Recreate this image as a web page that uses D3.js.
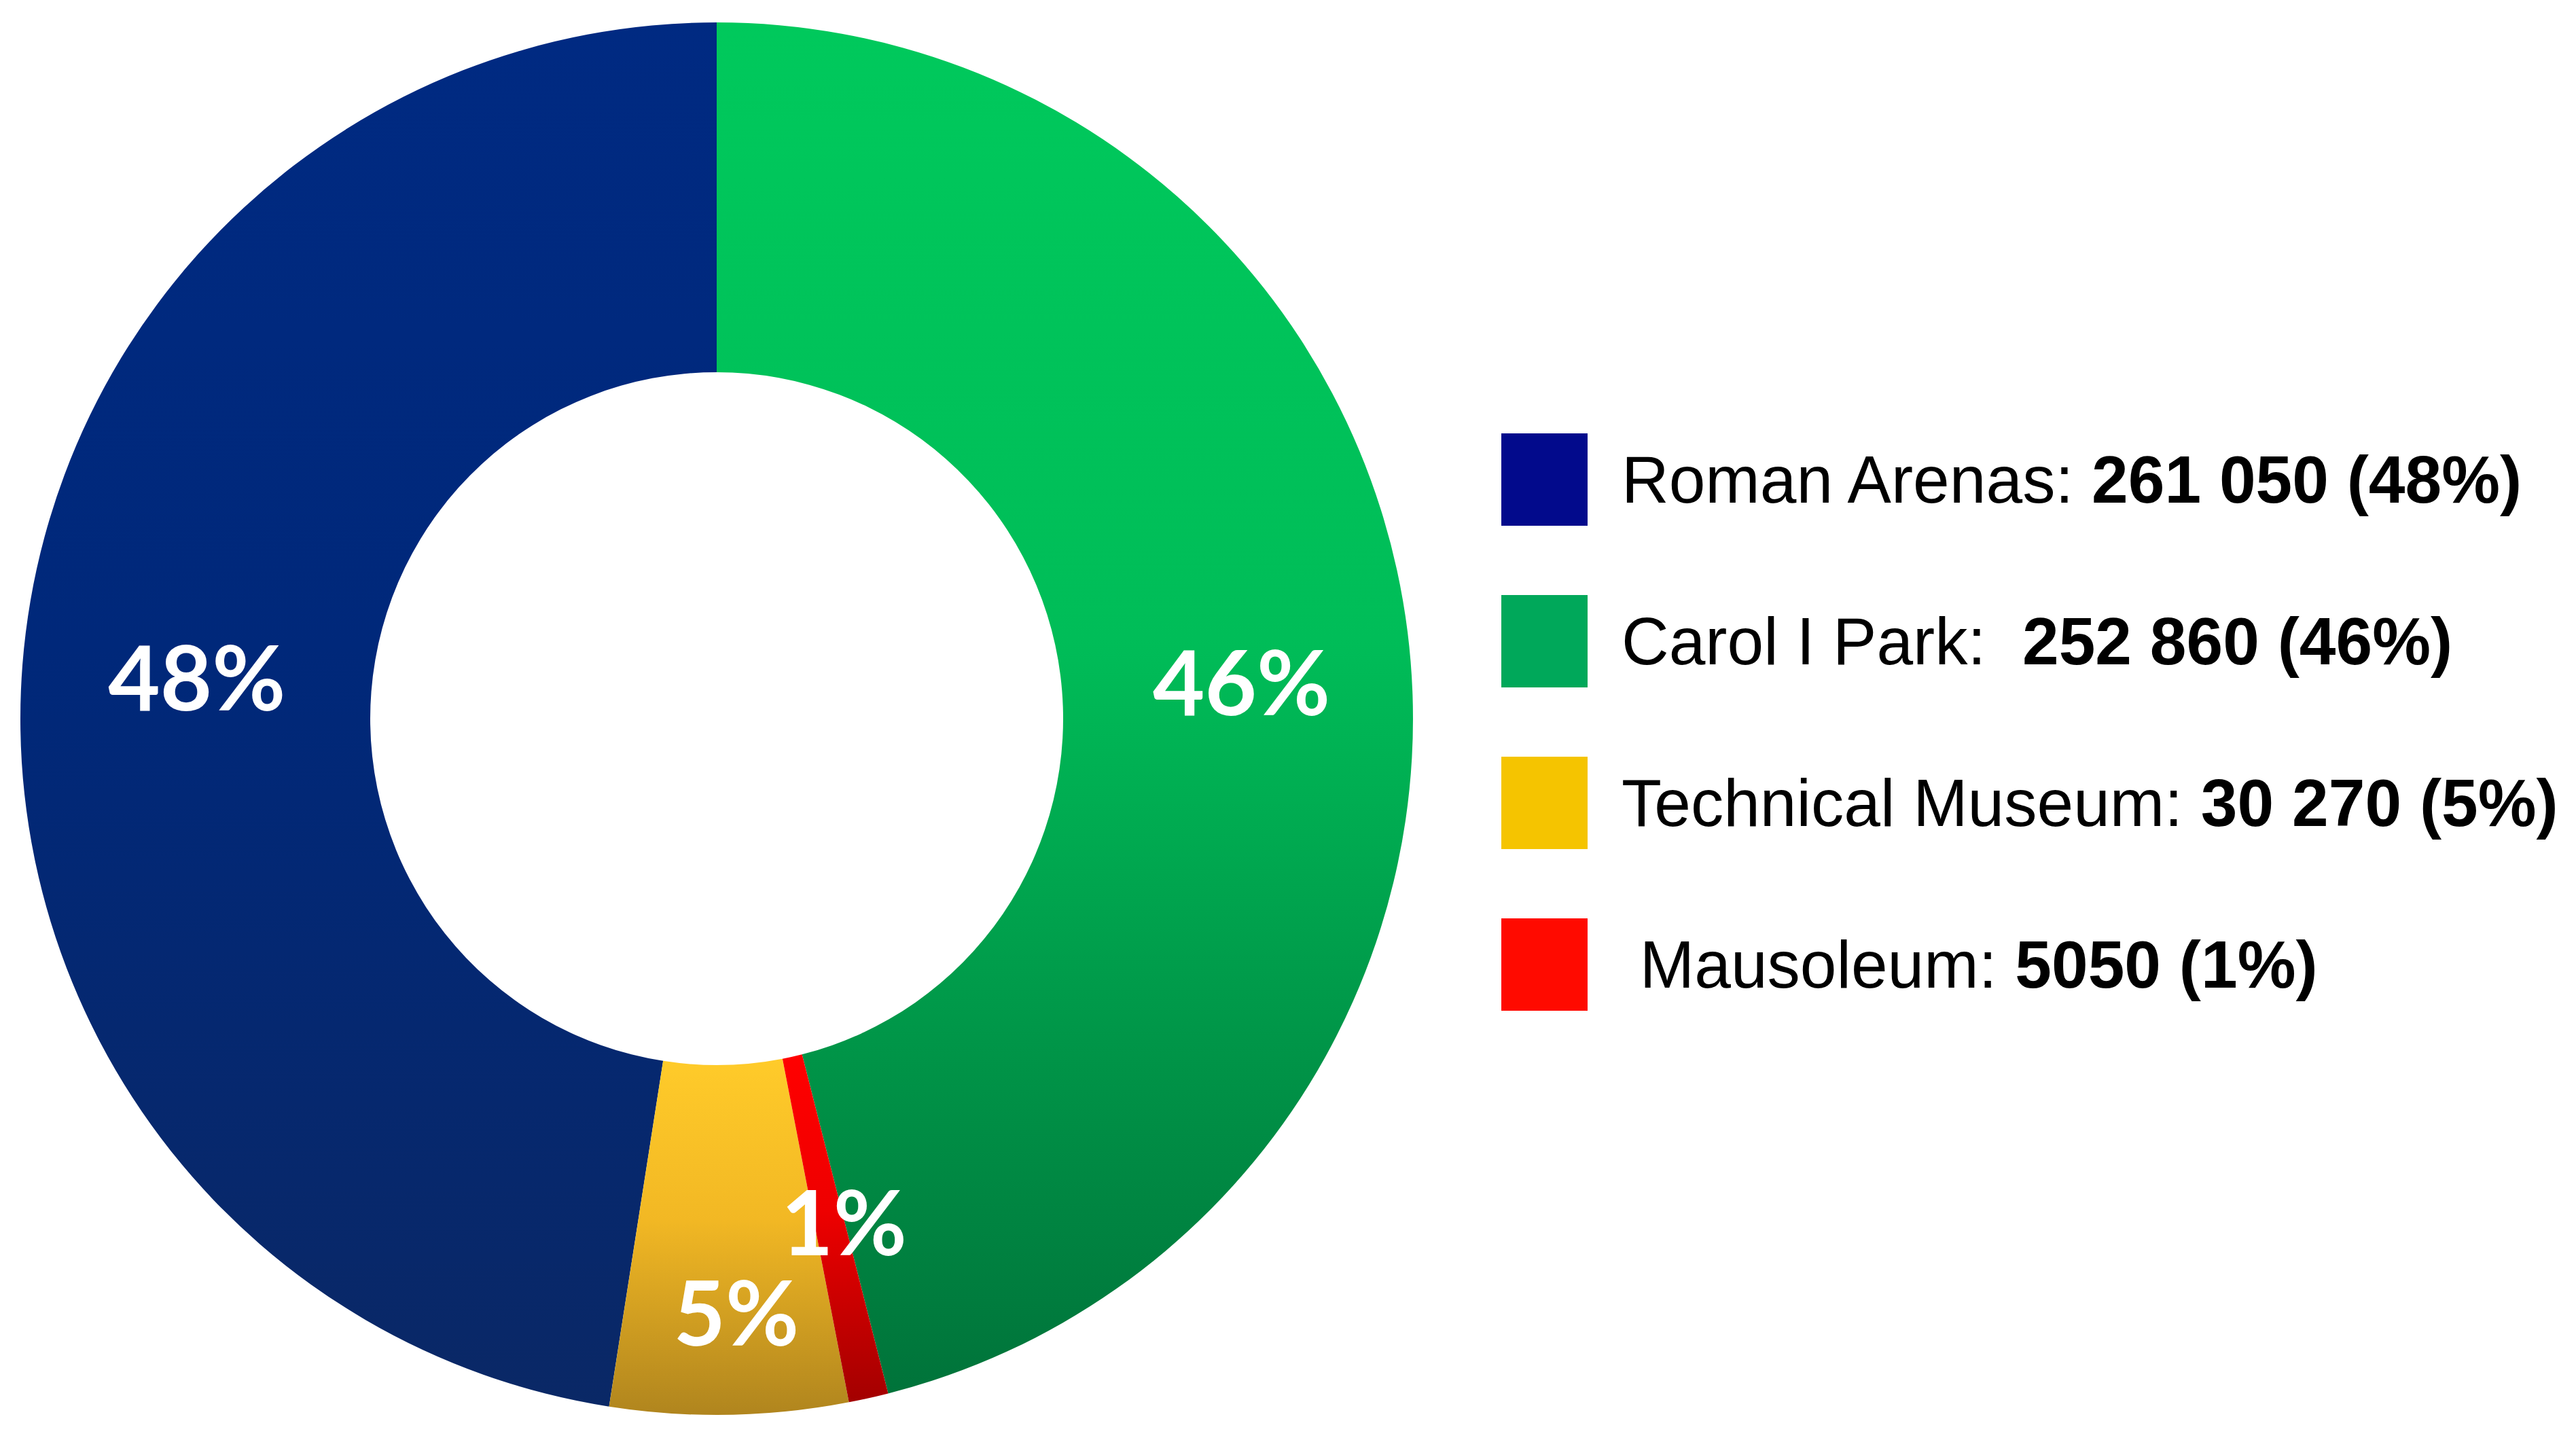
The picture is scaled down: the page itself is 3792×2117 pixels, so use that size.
<!DOCTYPE html>
<html>
<head>
<meta charset="utf-8">
<script src="https://cdn.jsdelivr.net/npm/d3@7"></script>
<style>
    body { margin: 0; background: #ffffff; }
    svg { display: block; }
    .pct { font-family: Lato, "Open Sans", sans-serif; font-weight: 700; fill: #ffffff; }
    .legend text { font-family: "Liberation Sans", Arial, sans-serif; fill: #000000; white-space: pre; }
</style>
</head>
<body>
<div id="chart"></div>
<script>
// data
const categories = ["Roman Arenas", "Carol I Park", "Technical Museum", "Mausoleum"];
const visitors = [261050, 252860, 30270, 5050];
const visitorLabels = ["261 050", "252 860", "30 270", "5050"];
const percentLabels = ["48%", "46%", "5%", "1%"];
const legendNames = ["Roman Arenas: ", "Carol I Park:  ", "Technical Museum: ", " Mausoleum: "];
// clockwise from 12 o'clock
const ringOrder = ["Carol I Park", "Mausoleum", "Technical Museum", "Roman Arenas"];

const layout = {
    width: 3792,
    height: 2117,
    cx: 1055,
    cy: 1058,
    outerR: 1025,
    innerR: 510,
    labelSize: 132,
    legendX: 2210,
    legendTop: 638,
    legendStep: 238,
    swatchW: 127,
    swatchH: 136,
    legendTextX: 2387,
    legendSize: 98,
    legendStretch: 0.985
};

// small fixes so labels sit where the original put them
const labelNudge = {
    "Carol I Park": [11, 43],
    "Technical Museum": [15, 108],
    "Mausoleum": [20, -7]
};

const sliceGradients = {
    "Roman Arenas": ["#002a82", "#00287a", "#0a2866"],
    "Carol I Park": ["#00c95c", "#00bd58", "#00733a"],
    "Technical Museum": ["#ffcb2a", "#f2b824", "#b0851e"],
    "Mausoleum": ["#ff0000", "#ee0000", "#a30000"]
};

const swatchColors = {
    "Roman Arenas": "#020a8c",
    "Carol I Park": "#00a85a",
    "Technical Museum": "#f5c400",
    "Mausoleum": "#ff0a00"
};

function buildRows() {
    return categories.map((name, i) => ({
        name: name,
        value: visitors[i],
        valueLabel: visitorLabels[i],
        pct: percentLabels[i],
        legendName: legendNames[i]
    }));
}

function drawChart() {
    const rows = buildRows();

    const svg = d3.select("#chart").append("svg")
        .attr("width", layout.width)
        .attr("height", layout.height);

    const defs = svg.append("defs");
    rows.forEach((row, i) => {
        const grad = defs.append("linearGradient")
            .attr("id", `grad${i}`)
            .attr("x1", 0).attr("y1", 0)
            .attr("x2", 0).attr("y2", 1);
        const stops = sliceGradients[row.name];
        [0, 0.45, 1].forEach((offset, k) => {
            grad.append("stop")
                .attr("offset", offset)
                .attr("stop-color", stops[k]);
        });
    });

    const pie = d3.pie()
        .value(d => d.value)
        .sort((a, b) => ringOrder.indexOf(a.name) - ringOrder.indexOf(b.name));

    const arc = d3.arc()
        .innerRadius(layout.innerR)
        .outerRadius(layout.outerR);

    const ring = svg.append("g")
        .attr("transform", `translate(${layout.cx}, ${layout.cy})`);

    const arcs = pie(rows);

    ring.selectAll("path")
        .data(arcs)
        .join("path")
        .attr("d", arc)
        .attr("fill", (d, i) => `url(#grad${i})`);

    ring.selectAll("text")
        .data(arcs)
        .join("text")
        .attr("class", "pct")
        .attr("text-anchor", "middle")
        .attr("font-size", layout.labelSize)
        .attr("x", d => arc.centroid(d)[0] + (labelNudge[d.data.name] || [0, 0])[0])
        .attr("y", d => arc.centroid(d)[1] + (labelNudge[d.data.name] || [0, 0])[1] + layout.labelSize * 0.36)
        .text(d => d.data.pct);

    drawLegend(svg, rows);
}

function drawLegend(svg, rows) {
    const legend = svg.append("g").attr("class", "legend");

    const y = d3.scaleLinear()
        .domain([0, 1])
        .range([layout.legendTop, layout.legendTop + layout.legendStep]);

    rows.forEach((row, i) => {
        legend.append("rect")
            .attr("x", layout.legendX)
            .attr("y", y(i))
            .attr("width", layout.swatchW)
            .attr("height", layout.swatchH)
            .attr("fill", swatchColors[row.name]);

        const text = legend.append("text")
            .attr("transform", `translate(${layout.legendTextX}, ${y(i) + layout.swatchH / 2 + 34}) scale(${layout.legendStretch}, 1)`)
            .attr("font-size", layout.legendSize);

        text.append("tspan").text(row.legendName);
        text.append("tspan")
            .attr("font-weight", 700)
            .text(`${row.valueLabel} (${row.pct})`);
    });
}

drawChart();
</script>
</body>
</html>
